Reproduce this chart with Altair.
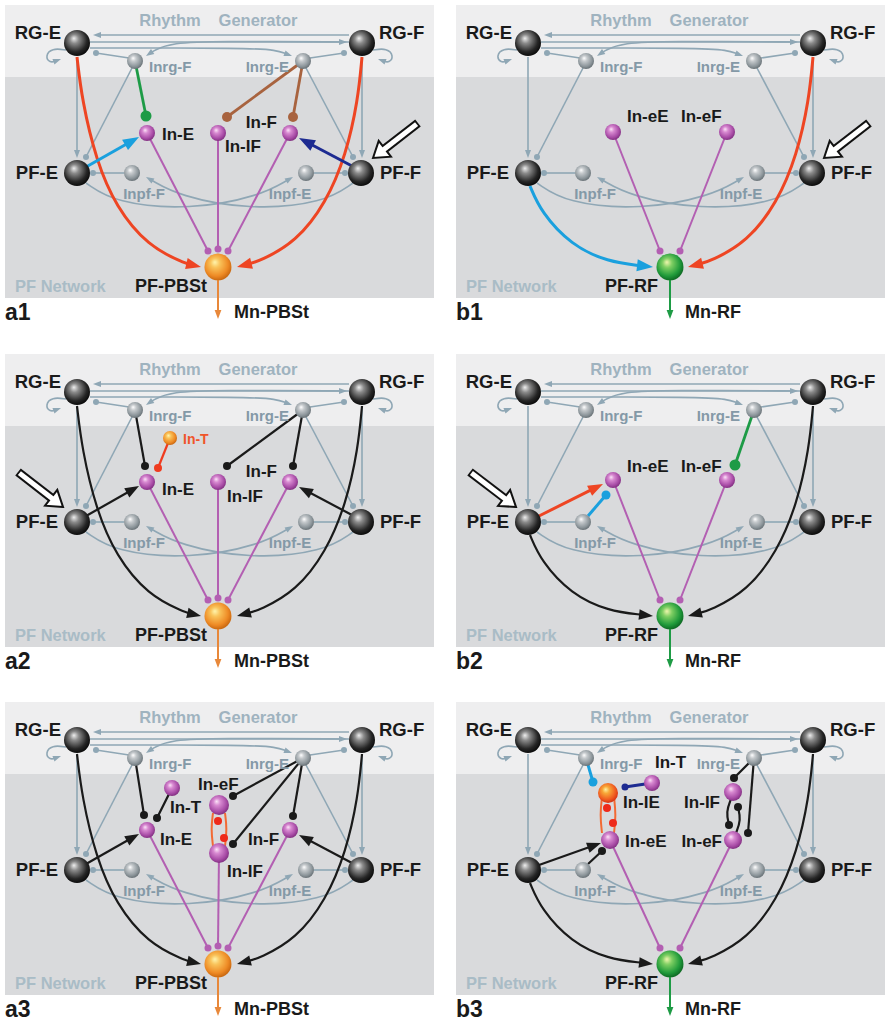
import math
import altair as alt
import pandas as pd

W, H = 885, 1024

# ---------------------------------------------------------------- panels
PANEL_IDS = ["a1", "b1", "a2", "b2", "a3", "b3"]
PANEL_OX = [0, 451, 0, 451, 0, 451]
PANEL_OY = [0, 0, 349, 349, 697, 697]
PANEL_SIDE = ["a", "b", "a", "b", "a", "b"]

# panel frame (diagram units of one panel): left, right, top, band split, bottom
BOX_L, BOX_R, BOX_T, BOX_MID, BOX_B = 5, 434, 5, 77, 298

BLACK = "#1a1a1a"
NET = "#8fa7b5"
NET_TXT = "#8499a7"
RG_TXT = "#9fb3bf"
PFN_TXT = "#a9bcc6"

# ---------------------------------------------------------------- nodes
CORE_NAMES = ["RG-E", "RG-F", "Inrg-F", "Inrg-E", "PF-E", "PF-F", "Inpf-F", "Inpf-E"]
CORE_X = [77, 362, 135, 303, 77, 361, 132, 306]
CORE_Y = [43, 43, 61, 61, 173, 173, 173, 173]
CORE_KIND = ["big", "big", "small", "small", "big", "big", "small", "small"]

OUT_NODE = {"a": ("PF-PBSt", 218, 267, "out_or"), "b": ("PF-RF", 219, 267, "out_gr")}
OUT_MN = {"a": "Mn-PBSt", "b": "Mn-RF"}

PANEL_NODES = {
    "a1": [("In-E", 147, 133, "mag"), ("In-IF", 218, 133, "mag"), ("In-F", 290, 133, "mag")],
    "b1": [("In-eE", 162, 132, "mag"), ("In-eF", 276, 132, "mag")],
    "a2": [("In-E", 147, 133, "mag"), ("In-IF", 218, 133, "mag"), ("In-F", 290, 133, "mag"),
           ("In-T", 170, 89, "or_s")],
    "b2": [("In-eE", 162, 131, "mag"), ("In-eF", 276, 131, "mag")],
    "a3": [("In-E", 147, 133, "mag"), ("In-T", 172, 91, "mag"), ("In-eF", 219, 108, "mag_l"),
           ("In-IF", 219, 156, "mag_l"), ("In-F", 290, 133, "mag")],
    "b3": [("In-IE", 157, 96, "orred"), ("In-T", 201, 86, "mag"), ("In-eE", 159, 143, "mag_m"),
           ("In-IF", 282, 95, "mag_m"), ("In-eF", 282, 143, "mag_m")],
}

# kind -> (shading family, diameter)
NODE_KIND = {
    "big": ("black", 26), "small": ("gray", 16), "mag": ("magenta", 16),
    "mag_m": ("magenta", 18), "mag_l": ("magenta", 20), "or_s": ("orange", 14),
    "out_or": ("orange", 27), "out_gr": ("green", 27), "orred": ("orred", 20),
}

# ---------------------------------------------------------------- edges
# style -> (colour, stroke width, arrow length, terminal dot diameter)
STYLE = {
    "net": (NET, 1.6, 8, 6),
    "red": ("#ee4523", 3.0, 15, 9),
    "redt": ("#ef3b1f", 2.2, 10, 8),
    "black": ("#1a1a1a", 2.2, 14, 8),
    "mag": ("#b35fb2", 2.0, 10, 7),
    "green": ("#1d9b46", 2.8, 12, 11),
    "brown": ("#a8633f", 2.8, 12, 10),
    "cyan": ("#1aa0de", 3.0, 16, 9),
    "navy": ("#1d2b91", 3.0, 16, 7),
    "orng": ("#f26a34", 2.0, 10, 8),
    "mnor": ("#e8883a", 2.0, 9, 6),
    "mngr": ("#1e9b45", 2.0, 9, 6),
}

NET_EDGES = [
    ([(349, 35), (93, 35)], "arrow"),
    ([(90, 42), (347, 42)], "arrow"),
    ([(349, 42), (215, 41), (172, 43), (155, 50), (146, 56)], "arrow"),
    ([(90, 48), (250, 48), (276, 50), (292, 56)], "arrow"),
    ([(129, 58), (96, 53)], "dot"),
    ([(310, 58), (344, 53)], "dot"),
    ([(66, 50), (52, 48), (45, 56), (50, 63), (61, 59)], "arrow"),
    ([(373, 50), (387, 48), (394, 56), (389, 63), (378, 59)], "arrow"),
    ([(77, 57), (77, 158)], "arrow"),
    ([(362, 57), (362, 158)], "arrow"),
    ([(132, 68), (86, 157)], "dot"),
    ([(306, 68), (353, 157)], "dot"),
    ([(124, 173), (93, 173)], "dot"),
    ([(314, 173), (345, 173)], "dot"),
    ([(86, 183), (115, 203), (190, 210), (260, 196), (293, 177)], "arrow"),
    ([(353, 183), (324, 203), (249, 210), (179, 196), (146, 177)], "arrow"),
]

RGE_TO_OUT = [(77, 57), (82, 100), (96, 160), (116, 207), (148, 246), (184, 263), (201, 267)]
RGF_TO_OUT = [(362, 57), (358, 100), (346, 155), (326, 203), (296, 242), (260, 261), (237, 267)]
PFE_TO_OUT = [(79, 186), (90, 212), (120, 245), (157, 262), (202, 267)]

PANEL_EDGES = {
    "a1": [
        ("red", RGE_TO_OUT, "arrow"), ("red", RGF_TO_OUT, "arrow"),
        ("green", [(135, 61), (146, 116)], "dot"),
        ("brown", [(303, 61), (227, 117)], "dot"),
        ("brown", [(303, 61), (293, 117)], "dot"),
        ("cyan", [(86, 167), (139, 137)], "arrow"),
        ("navy", [(352, 166), (299, 138)], "arrow"),
        ("mag", [(147, 133), (208, 251)], "dot"),
        ("mag", [(218, 133), (218, 249)], "dot"),
        ("mag", [(290, 133), (228, 251)], "dot"),
    ],
    "b1": [
        ("cyan", PFE_TO_OUT, "arrow"), ("red", RGF_TO_OUT, "arrow"),
        ("mag", [(162, 132), (209, 251)], "dot"),
        ("mag", [(276, 132), (229, 251)], "dot"),
    ],
    "a2": [
        ("black", RGE_TO_OUT, "arrow"), ("black", RGF_TO_OUT, "arrow"),
        ("black", [(135, 61), (145, 117)], "dot"),
        ("black", [(303, 61), (227, 117)], "dot"),
        ("black", [(303, 61), (293, 117)], "dot"),
        ("redt", [(170, 89), (158, 119)], "dot"),
        ("black", [(86, 167), (139, 137)], "arrow"),
        ("black", [(352, 166), (299, 138)], "arrow"),
        ("mag", [(147, 133), (208, 251)], "dot"),
        ("mag", [(218, 133), (218, 249)], "dot"),
        ("mag", [(290, 133), (228, 251)], "dot"),
    ],
    "b2": [
        ("black", PFE_TO_OUT, "arrow"), ("black", RGF_TO_OUT, "arrow"),
        ("green", [(303, 61), (284, 116)], "dot"),
        ("red", [(88, 167), (152, 135)], "arrow"),
        ("cyan", [(137, 167), (155, 146)], "dot"),
        ("mag", [(162, 131), (209, 251)], "dot"),
        ("mag", [(276, 131), (229, 251)], "dot"),
    ],
    "a3": [
        ("black", RGE_TO_OUT, "arrow"), ("black", RGF_TO_OUT, "arrow"),
        ("black", [(135, 61), (144, 118)], "dot"),
        ("black", [(172, 91), (157, 121)], "dot"),
        ("black", [(303, 61), (233, 99)], "dot"),
        ("black", [(303, 61), (233, 147)], "dot"),
        ("black", [(303, 61), (293, 119)], "dot"),
        ("orng", [(213, 116), (211, 132), (213, 149)], None),
        ("orng", [(225, 116), (227, 132), (225, 149)], None),
        ("black", [(86, 167), (139, 137)], "arrow"),
        ("black", [(352, 166), (299, 138)], "arrow"),
        ("mag", [(147, 133), (208, 251)], "dot"),
        ("mag", [(219, 156), (218, 249)], "dot"),
        ("mag", [(290, 133), (228, 251)], "dot"),
    ],
    "b3": [
        ("black", PFE_TO_OUT, "arrow"), ("black", RGF_TO_OUT, "arrow"),
        ("cyan", [(135, 61), (142, 85)], "dot"),
        ("navy", [(201, 86), (174, 90)], "dot"),
        ("orng", [(151, 100), (149, 118), (151, 136)], None),
        ("orng", [(163, 100), (165, 118), (163, 136)], None),
        ("black", [(303, 61), (283, 81)], "dot"),
        ("black", [(303, 61), (297, 136)], "dot"),
        ("black", [(280, 102), (275, 115), (278, 128)], "dot"),
        ("black", [(285, 136), (290, 123), (287, 110)], "dot"),
        ("black", [(88, 168), (150, 146)], "arrow"),
        ("black", [(137, 167), (151, 154)], "dot"),
        ("mag", [(159, 143), (209, 251)], "dot"),
        ("mag", [(282, 143), (229, 251)], "dot"),
    ],
}

# free-standing synapse dots on the reciprocal loops
PANEL_SPOTS = {
    "a3": [(218, 124), (224, 141)],
    "b3": [(156, 111), (162, 126)],
}

# open "stimulus" arrows: tail, tip
HOLLOW = {
    "a1": ((418, 123), (373, 158)),
    "b1": ((418, 123), (373, 158)),
    "a2": ((18, 123), (63, 158)),
    "b2": ((19, 123), (65, 158)),
}

# ---------------------------------------------------------------- labels
COMMON_TEXT = [
    ("RG-E", 61, 33, "right", BLACK, 18.5),
    ("RG-F", 379, 33, "left", BLACK, 18.5),
    ("Rhythm", 170, 21, "center", RG_TXT, 16.5),
    ("Generator", 258, 21, "center", RG_TXT, 16.5),
    ("Inrg-F", 149, 67, "left", NET_TXT, 15),
    ("Inrg-E", 289, 67, "right", NET_TXT, 15),
    ("PF-E", 58, 173, "right", BLACK, 18.5),
    ("PF-F", 380, 173, "left", BLACK, 18.5),
    ("Inpf-F", 144, 194, "center", NET_TXT, 15),
    ("Inpf-E", 290, 194, "center", NET_TXT, 15),
    ("PF Network", 15, 287, "left", PFN_TXT, 16.5),
]

PANEL_TEXT = {
    "a1": [("In-E", 162, 135, "left"), ("In-IF", 225, 147, "left"), ("In-F", 277, 123, "right")],
    "b1": [("In-eE", 176, 117, "left"), ("In-eF", 230, 117, "left")],
    "a2": [("In-E", 162, 141, "left"), ("In-IF", 227, 148, "left"), ("In-F", 277, 123, "right")],
    "b2": [("In-eE", 176, 118, "left"), ("In-eF", 230, 118, "left")],
    "a3": [("In-E", 160, 143, "left"), ("In-T", 170, 111, "left"), ("In-eF", 198, 88, "left"),
           ("In-F", 248, 143, "left"), ("In-IF", 227, 175, "left")],
    "b3": [("In-T", 204, 66, "left"), ("In-IE", 172, 106, "left"), ("In-IF", 269, 106, "right"),
           ("In-eE", 174, 145, "left"), ("In-eF", 271, 145, "right")],
}
COLORED_TEXT = {"a2": [("In-T", 183, 91, "left", "#f0552a", 14)]}

# ---------------------------------------------------------------- build tables
line_rows, head_rows, dot_rows, node_rows, text_rows, rect_rows = [], [], [], [], [], []
hollow_lines, hollow_heads = [], []
edge_id = [0]


def add_edge(ox, oy, style, pts, end, layer):
    color, width, alen, dsz = STYLE[style]
    pts = [(x + ox, y + oy) for x, y in pts]
    if end == "arrow":
        (x0, y0), (x1, y1) = pts[-2], pts[-1]
        d = math.hypot(x1 - x0, y1 - y0)
        ux, uy = (x1 - x0) / d, (y1 - y0) / d
        ang = math.degrees(math.atan2(ux, -uy)) % 360
        head_rows.append(dict(x=x1, y=y1, ang=ang, s=alen ** 2, c=color, layer=layer))
        pts = pts[:-1] + [(x1 - ux * alen * 0.7, y1 - uy * alen * 0.7)]
    elif end == "dot":
        dot_rows.append(dict(x=pts[-1][0], y=pts[-1][1], s=dsz ** 2, c=color, layer=layer))
    for i, (x, y) in enumerate(pts):
        line_rows.append(dict(x=x, y=y, i=i, eid=edge_id[0], c=color, w=width, layer=layer))
    edge_id[0] += 1


for k, pid in enumerate(PANEL_IDS):
    ox, oy, side = PANEL_OX[k], PANEL_OY[k], PANEL_SIDE[k]

    rect_rows.append(dict(x=BOX_L + ox, x2=BOX_R + ox, y=BOX_T + oy, y2=BOX_MID + oy, c="#eeeeef"))
    rect_rows.append(dict(x=BOX_L + ox, x2=BOX_R + ox, y=BOX_MID + oy, y2=BOX_B + oy, c="#d9dadc"))

    for pts, end in NET_EDGES:
        add_edge(ox, oy, "net", pts, end, "net")

    out_name, out_x, out_y, out_kind = OUT_NODE[side]
    add_edge(ox, oy, "mnor" if side == "a" else "mngr",
             [(out_x, out_y + 13), (out_x, 319)], "arrow", "hi")
    for style, pts, end in PANEL_EDGES[pid]:
        add_edge(ox, oy, style, pts, end, "hi")
    for x, y in PANEL_SPOTS.get(pid, []):
        dot_rows.append(dict(x=x + ox, y=y + oy, s=64, c="#ee2a1a", layer="hi"))

    nodes = list(zip(CORE_NAMES, CORE_X, CORE_Y, CORE_KIND))
    nodes += [(out_name, out_x, out_y, out_kind)] + PANEL_NODES[pid]
    for name, x, y, kind in nodes:
        fam, dia = NODE_KIND[kind]
        node_rows.append(dict(x=x + ox, y=y + oy, s=dia ** 2, fam=fam, name=name))

    texts = list(COMMON_TEXT)
    texts.append((out_name, 207, 287, "right", BLACK, 18))
    texts.append((OUT_MN[side], 234, 313, "left", BLACK, 18))
    texts.append((pid, 5, 313, "left", BLACK, 23))
    texts += [(t, x, y, a, BLACK, 17) for t, x, y, a in PANEL_TEXT[pid]]
    texts += COLORED_TEXT.get(pid, [])
    for t, x, y, a, c, fs in texts:
        text_rows.append(dict(x=x + ox, y=y + oy, t=t, a=a, c=c, fs=fs))

    if pid in HOLLOW:
        (tx, ty), (hx, hy) = HOLLOW[pid]
        tx, ty, hx, hy = tx + ox, ty + oy, hx + ox, hy + oy
        d = math.hypot(hx - tx, hy - ty)
        ux, uy = (hx - tx) / d, (hy - ty) / d
        head_len = 15
        bx, by = hx - ux * head_len, hy - uy * head_len
        hollow_lines += [dict(x=tx, y=ty, i=0, part="outer", hid=pid),
                         dict(x=bx + ux, y=by + uy, i=1, part="outer", hid=pid),
                         dict(x=tx + ux * 1.8, y=ty + uy * 1.8, i=0, part="inner", hid=pid),
                         dict(x=bx + ux * 2.5, y=by + uy * 2.5, i=1, part="inner", hid=pid)]
        hollow_heads.append(dict(x=hx, y=hy, ang=math.degrees(math.atan2(ux, -uy)) % 360))

lines = pd.DataFrame(line_rows)
heads = pd.DataFrame(head_rows)
dots = pd.DataFrame(dot_rows)
nodes_df = pd.DataFrame(node_rows)
texts_df = pd.DataFrame(text_rows)
rects = pd.DataFrame(rect_rows)
hl = pd.DataFrame(hollow_lines)
hh = pd.DataFrame(hollow_heads)

# ---------------------------------------------------------------- encodings
XS = alt.Scale(domain=[0, W], nice=False, zero=False)
YS = alt.Scale(domain=[0, H], nice=False, zero=False, reverse=True)
X = alt.X("x:Q", scale=XS, axis=None)
Y = alt.Y("y:Q", scale=YS, axis=None)

ARROW = "M0,0L0.75,2L-0.75,2Z"
OPEN_HEAD = "M0,0L1,1.5L-1,1.5Z"


def ball(c0, c1, c2, c3):
    return alt.RadialGradient(
        gradient="radial",
        stops=[alt.GradientStop(offset=0.0, color=c0), alt.GradientStop(offset=0.28, color=c1),
               alt.GradientStop(offset=0.72, color=c2), alt.GradientStop(offset=1.0, color=c3)],
        x1=0.38, y1=0.32, r1=0.0, x2=0.45, y2=0.42, r2=0.62)


SHADING = {
    "black": ball("#eeeeee", "#8a8a8a", "#262626", "#050505"),
    "gray": ball("#ffffff", "#c6cacd", "#8d969b", "#616a6f"),
    "magenta": ball("#fbe3f7", "#d88ad1", "#a84ca6", "#7a2a7a"),
    "orange": ball("#fff6b0", "#f9c35a", "#ee8a25", "#c0600c"),
    "green": ball("#f4f7b0", "#7fcf63", "#1f9a3a", "#0b5e1e"),
    "orred": ball("#fff1a0", "#f8a838", "#ef5a20", "#d02a10"),
}

bg = alt.Chart(rects).mark_rect().encode(
    x=X, x2="x2:Q", y=Y, y2="y2:Q", color=alt.Color("c:N", scale=None))


def line_layer(layer):
    return alt.Chart(lines).transform_filter(alt.datum.layer == layer).mark_line(
        interpolate="basis", strokeCap="butt").encode(
        x=X, y=Y, detail="eid:N", order="i:Q",
        color=alt.Color("c:N", scale=None),
        strokeWidth=alt.StrokeWidth("w:Q", scale=None))


def head_layer(layer):
    return alt.Chart(heads).transform_filter(alt.datum.layer == layer).mark_point(
        shape=ARROW, filled=True, opacity=1, strokeWidth=0).encode(
        x=X, y=Y, angle=alt.Angle("ang:Q", scale=None),
        size=alt.Size("s:Q", scale=None), color=alt.Color("c:N", scale=None))


def dot_layer(layer):
    return alt.Chart(dots).transform_filter(alt.datum.layer == layer).mark_circle(
        opacity=1).encode(
        x=X, y=Y, size=alt.Size("s:Q", scale=None), color=alt.Color("c:N", scale=None))


node_layers = [
    alt.Chart(nodes_df).transform_filter(alt.datum.fam == fam).mark_circle(
        fill=grad, opacity=1).encode(x=X, y=Y, size=alt.Size("s:Q", scale=None))
    for fam, grad in SHADING.items()
]


def text_layer(align):
    return alt.Chart(texts_df).transform_filter(alt.datum.a == align).mark_text(
        align=align, baseline="middle", font="Liberation Sans", fontWeight="bold").encode(
        x=X, y=Y, text="t:N", color=alt.Color("c:N", scale=None),
        size=alt.Size("fs:Q", scale=None))


hollow_outer = alt.Chart(hl).transform_filter(alt.datum.part == "outer").mark_line(
    color="#111111", strokeWidth=9, strokeCap="butt").encode(
    x=X, y=Y, detail="hid:N", order="i:Q")
hollow_head = alt.Chart(hh).mark_point(
    shape=OPEN_HEAD, filled=True, fill="white", stroke="#111111", strokeWidth=2,
    strokeJoin="miter", opacity=1, size=400).encode(
    x=X, y=Y, angle=alt.Angle("ang:Q", scale=None))
hollow_inner = alt.Chart(hl).transform_filter(alt.datum.part == "inner").mark_line(
    color="white", strokeWidth=5, strokeCap="butt").encode(
    x=X, y=Y, detail="hid:N", order="i:Q")

chart = alt.layer(
    bg,
    line_layer("net"),
    line_layer("hi"),
    *node_layers,
    head_layer("net"), dot_layer("net"),
    head_layer("hi"), dot_layer("hi"),
    text_layer("left"), text_layer("center"), text_layer("right"),
    hollow_outer, hollow_head, hollow_inner,
).properties(
    width=W, height=H, autosize="none", padding=0, background="white"
).configure_view(stroke=None)

chart.save("out.html", embed_options={"renderer": "svg", "actions": False})
